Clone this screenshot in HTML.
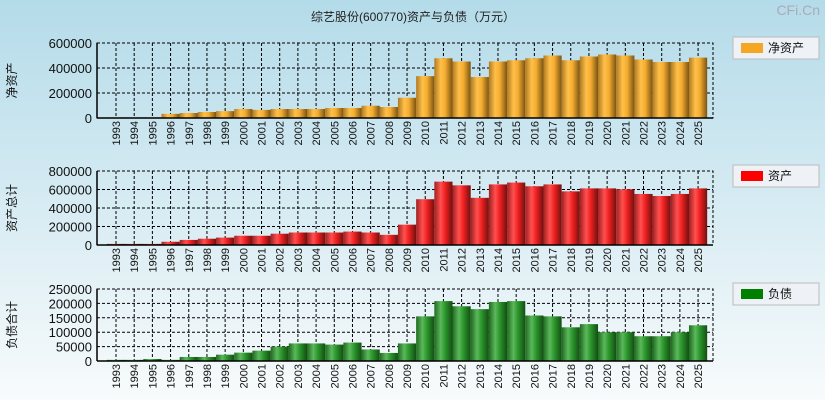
<!DOCTYPE html>
<html><head><meta charset="utf-8"><style>
body{margin:0;width:825px;height:400px;overflow:hidden;font-family:"Liberation Sans","Noto Sans CJK SC",sans-serif}
</style></head><body>
<svg id="c" width="825" height="400" xmlns="http://www.w3.org/2000/svg" style="font-family:'Liberation Sans','Noto Sans CJK SC',sans-serif">
<defs>
<linearGradient id="bg" x1="0" y1="0" x2="0" y2="1"><stop offset="0" stop-color="#b4dbe9"/><stop offset="1" stop-color="#f8fbfc"/></linearGradient>
<linearGradient id="g0" x1="0" x2="1"><stop offset="0" stop-color="#b07a20"/><stop offset="0.35" stop-color="#ffc04a"/><stop offset="0.6" stop-color="#f5ac30"/><stop offset="1" stop-color="#7a5412"/></linearGradient>
<linearGradient id="g1" x1="0" x2="1"><stop offset="0" stop-color="#a02020"/><stop offset="0.35" stop-color="#ff5050"/><stop offset="0.6" stop-color="#f02020"/><stop offset="1" stop-color="#701010"/></linearGradient>
<linearGradient id="g2" x1="0" x2="1"><stop offset="0" stop-color="#1f6a1f"/><stop offset="0.35" stop-color="#5cb85c"/><stop offset="0.6" stop-color="#2a962a"/><stop offset="1" stop-color="#154d15"/></linearGradient>
</defs>
<rect width="825" height="400" fill="url(#bg)"/>
<text x="413" y="21" text-anchor="middle" font-size="12" fill="#222">综艺股份(600770)资产与负债（万元）</text>
<text x="820" y="15" text-anchor="end" font-size="14" fill="#aab">CFi.Cn</text>
</svg>
<script>
const years=[1993,1994,1995,1996,1997,1998,1999,2000,2001,2002,2003,2004,2005,2006,2007,2008,2009,2010,2011,2012,2013,2014,2015,2016,2017,2018,2019,2020,2021,2022,2023,2024,2025];
const netAssets=[5000,5000,5000,33000,40000,48000,55000,72000,65000,72000,72000,72000,80000,80000,98000,88000,162000,335000,478000,452000,328000,452000,462000,478000,500000,462000,492000,508000,500000,468000,448000,448000,483000];
const totalAssets=[12000,12000,12000,35000,55000,68000,80000,100000,100000,122000,135000,135000,135000,145000,135000,110000,220000,495000,685000,645000,510000,655000,675000,635000,655000,580000,612000,612000,602000,552000,530000,552000,612000];
const liabilities=[4000,4000,7000,4000,14000,14000,22000,29000,36000,50000,61000,61000,57000,64000,40000,28000,61000,155000,208000,190000,180000,205000,208000,158000,155000,117000,128000,100000,100000,86000,86000,100000,124000];
const ticks0=[0,200000,400000,600000];
const ticks1=[0,200000,400000,600000,800000];
const ticks2=[0,50000,100000,150000,200000,250000];
const svg=document.getElementById('c');
const NS='http://www.w3.org/2000/svg';
function el(t,a,txt){const e=document.createElementNS(NS,t);for(const k in a)e.setAttribute(k,a[k]);if(txt!==undefined)e.textContent=txt;svg.appendChild(e);return e;}
const L=97,R=713,step=18.19,C0=116;
const cx=i=>C0+step*i;
const panels=[
 {vals:netAssets,ticks:ticks0,max:600000,top:43,bot:118,grad:'g0',ytitle:'净资产',legend:'净资产',col:'#f5a623',key:'net-assets'},
 {vals:totalAssets,ticks:ticks1,max:800000,top:171,bot:245,grad:'g1',ytitle:'资产总计',legend:'资产',col:'#ff0000',key:'total-assets'},
 {vals:liabilities,ticks:ticks2,max:250000,top:289,bot:361,grad:'g2',ytitle:'负债合计',legend:'负债',col:'#008000',key:'liabilities'}
];
panels.forEach((p,pi)=>{
 const y=v=>p.bot-(v/p.max)*(p.bot-p.top);
 let e=el('rect',{x:L,y:p.top,width:R-L,height:p.bot-p.top,fill:'none',stroke:'#000','stroke-dasharray':'3,2'});
 
 years.forEach((yr,i)=>{
  e=el('line',{x1:cx(i),x2:cx(i),y1:p.top,y2:p.bot,stroke:'#000','stroke-dasharray':'3,2','stroke-width':1});
  });
 p.ticks.forEach(t=>{const ty=y(t);
  e=el('line',{x1:L,x2:R,y1:ty,y2:ty,stroke:'#000','stroke-dasharray':'3,2'});
  
  e=el('text',{x:L-5,y:ty+5,'text-anchor':'end','font-size':13,fill:'#111'},String(t));
  });
 p.vals.forEach((v,i)=>{
  e=el('rect',{x:cx(i)-step/2,y:y(v),width:step,height:p.bot-y(v),fill:'url(#'+p.grad+')'});
  });
 e=el('line',{x1:L,x2:L,y1:p.top,y2:p.bot,stroke:'#000','stroke-width':1.5});
 
 e=el('line',{x1:L,x2:R,y1:p.bot,y2:p.bot,stroke:'#000','stroke-width':1.5});
 
 years.forEach((yr,i)=>{const tx=cx(i)+4;
  e=el('text',{x:tx,y:p.bot+3,'text-anchor':'end','font-size':11,fill:'#111',transform:'rotate(-90 '+tx+' '+(p.bot+3)+')'},String(yr));
  });
 const my=(p.top+p.bot)/2;
 e=el('text',{x:16,y:my,'text-anchor':'middle','font-size':12,fill:'#111',transform:'rotate(-90 16 '+my+')'},p.ytitle);
 
 const ly=p.top-6;
 e=el('rect',{x:733,y:ly,width:86,height:22,fill:'#eef2f6',stroke:'#bbb'});
 
 e=el('rect',{x:741,y:ly+6,width:22,height:10,fill:p.col});
 
 e=el('text',{x:768,y:ly+15,'font-size':12,fill:'#111'},p.legend);
 
});
</script>
</body></html>
